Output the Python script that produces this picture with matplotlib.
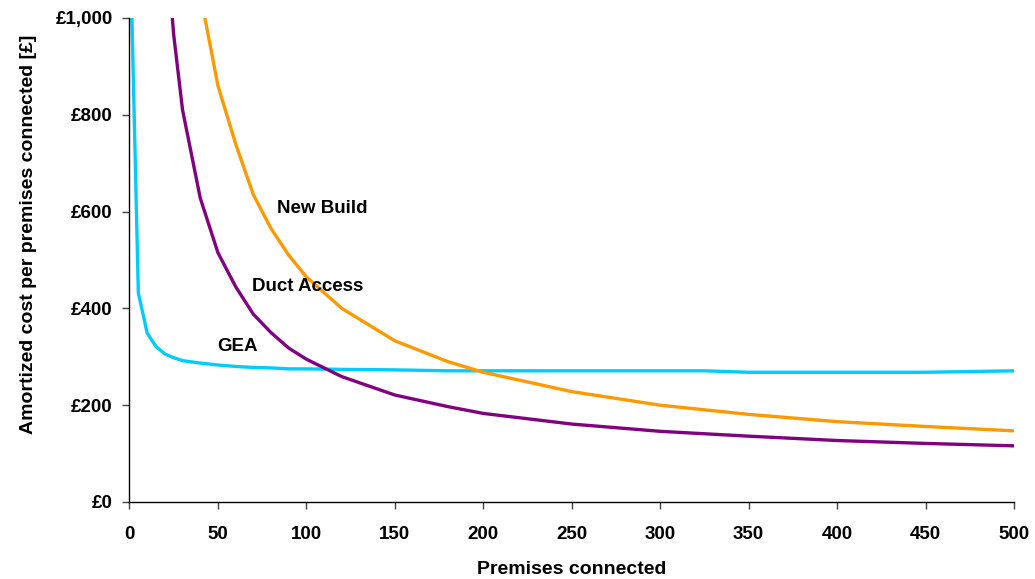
import matplotlib.pyplot as plt
from matplotlib.ticker import FuncFormatter

# GEA
gea_x = [1, 5, 10, 15, 20, 25, 30, 40, 50, 60, 70, 80, 90, 100, 120, 150, 180, 200, 250, 300, 325, 350, 400, 450, 500]
gea_y = [1060, 432, 349, 321, 306, 298, 292, 287, 283, 280, 278, 277, 275, 275, 274, 273, 271, 271, 271, 271, 271, 268, 268, 268, 271]

# Duct Access
duct_x = [20, 25, 30, 40, 50, 60, 70, 80, 90, 100, 120, 150, 180, 200, 250, 300, 350, 400, 450, 500]
duct_y = [1190, 965, 810, 628, 515, 445, 388, 350, 318, 295, 259, 221, 197, 183, 161, 146, 136, 127, 121, 116]

# New Build
new_x = [40, 50, 60, 70, 80, 90, 100, 120, 150, 180, 200, 250, 300, 350, 400, 450, 500]
new_y = [1050, 860, 740, 635, 565, 510, 465, 400, 333, 290, 268, 228, 200, 181, 166, 156, 147]

x_ticks = [0, 50, 100, 150, 200, 250, 300, 350, 400, 450, 500]
y_ticks = [0, 200, 400, 600, 800, 1000]

plt.rcParams['font.family'] = ['Liberation Sans', 'DejaVu Sans']
plt.rcParams['font.weight'] = 'bold'

fig = plt.figure(figsize=(10.35, 5.79), dpi=100)
ax = fig.add_axes([0.1251, 0.133, 0.8546, 0.836])

ax.plot(gea_x, gea_y, color='#00CCFF', linewidth=2.4)
ax.plot(duct_x, duct_y, color='#800080', linewidth=2.4)
ax.plot(new_x, new_y, color='#FF9900', linewidth=2.4)

ax.text(83.5, 607, 'New Build', fontsize=13.5, fontweight='bold', va='center')
ax.text(69.5, 446, 'Duct Access', fontsize=13.5, fontweight='bold', va='center')
ax.text(49.5, 322, 'GEA', fontsize=13.5, fontweight='bold', va='center')

ax.set_xlim(0, 500)
ax.set_ylim(0, 1000)
ax.set_xticks(x_ticks)
ax.set_yticks(y_ticks)
ax.yaxis.set_major_formatter(FuncFormatter(lambda v, p: '£{:,.0f}'.format(v)))

ax.spines['top'].set_visible(False)
ax.spines['right'].set_visible(False)
ax.spines['left'].set_linewidth(1.0)
ax.spines['bottom'].set_linewidth(1.0)
ax.tick_params(axis='both', direction='out', length=5, width=1, color='#444444', labelsize=13.5)
ax.tick_params(axis='x', pad=12)
ax.tick_params(axis='y', pad=7)

ax.set_xlabel('Premises connected', fontsize=14, fontweight='bold', labelpad=13)
ax.set_ylabel('Amortized cost per premises connected [£]', fontsize=14, fontweight='bold')
ax.yaxis.set_label_coords(-0.105, 0.554)

fig.savefig('out.png', dpi=100)
plt.close(fig)
